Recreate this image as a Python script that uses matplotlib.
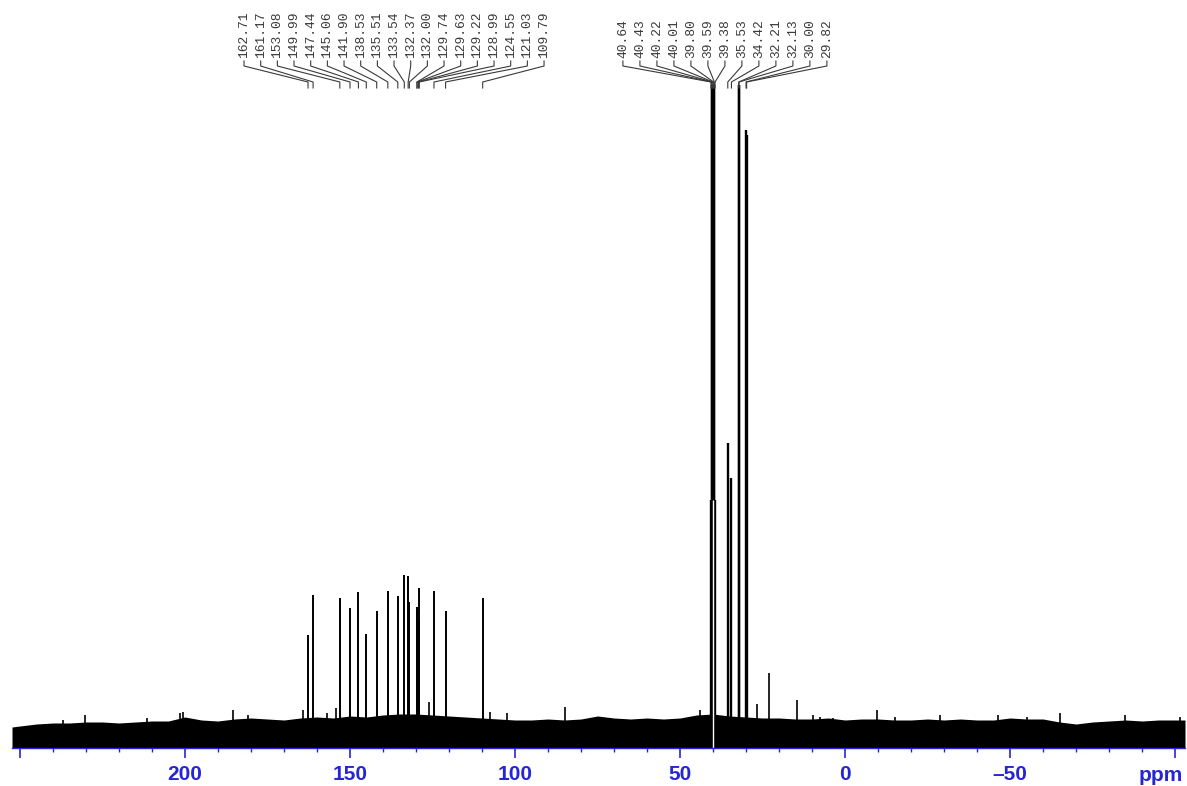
import numpy as np
import matplotlib
matplotlib.use("Agg")
import matplotlib.pyplot as plt
from matplotlib.transforms import blended_transform_factory
from matplotlib.ticker import MultipleLocator, FuncFormatter

# ---------------- data ----------------
arom_shifts = [162.71, 161.17, 153.08, 149.99, 147.44, 145.06, 141.90, 138.53,
               135.51, 133.54, 132.37, 132.00, 129.74, 129.63, 129.22, 128.99,
               124.55, 121.03, 109.79]
arom_heights = [110, 150, 147, 137, 153, 111, 134, 154,
                149, 170, 169, 143, 138, 135, 157, 125,
                154, 134, 147]

aliph_shifts = [40.64, 40.43, 40.22, 40.01, 39.80, 39.59, 39.38,
                35.53, 34.42, 32.21, 32.13, 30.00, 29.82]
aliph_heights = [245, 2000, 2000, 2000, 2000, 2000, 245,
                 302, 267, 2000, 1900, 615, 610]

# unlabeled small peaks / noise spikes
spike_ppm = [237.0, 230.3, 211.5, 201.5, 200.5, 185.5, 181.0, 164.3, 157.0,
             154.2, 126.1, 107.6, 102.4, 84.8, 44.0, 26.7, 23.0, 14.5, 9.7,
             7.6, 3.6, -9.7, -15.0, -28.8, -46.4, -55.0, -65.0, -84.8, -101.5]
spike_height = [25, 30, 27, 32, 33, 35, 30, 35, 32,
                37, 43, 33, 32, 38, 35, 41, 72, 45, 30,
                28, 27, 35, 28, 30, 30, 28, 32, 30, 28]

# noise-floor envelope
noise_ppm = [252.4] + list(range(250, -105, -5)) + [-103.0]
noise_level = [18, 19, 21, 22, 22, 23, 23, 22, 23, 24, 24, 28, 25, 24, 26, 27,
               26, 25, 27, 28, 27, 29, 28, 30, 31, 31, 30, 29, 28, 27, 26, 25,
               25, 26, 25, 26, 29, 27, 26, 27, 26, 27, 30, 31, 29, 28, 27, 27,
               26, 26, 27, 25, 26, 26, 25, 25, 26, 25, 26, 25, 25, 27, 26, 26,
               23, 21, 23, 24, 25, 24, 25, 25, 25]

labeled_ticks = [200, 150, 100, 50, 0, -50]
unit_label = "ppm"

# ---------------- figure ----------------
W, H = 1187, 786
BLUE = "#2626d4"
fig = plt.figure(figsize=(W / 100, H / 100), dpi=100)
ax = fig.add_axes([12 / W, 1 - 748 / H, (1185 - 12) / W, (748 - 85) / H])
ax.set_xlim(252.4, -103.0)
ax.set_ylim(-3, 660)

# noise band
ax.fill_between(noise_ppm, -3, noise_level, color="black", lw=0)
ax.vlines(spike_ppm, -3, spike_height, color="black", lw=1.2)

# peaks
ax.vlines(arom_shifts, 0, arom_heights, color="black", lw=1.4)
ax.vlines(aliph_shifts, 0, aliph_heights, color="black", lw=1.7)
# white gap under the solvent septet
ax.vlines(aliph_shifts[3], -3, aliph_heights[0], color="white", lw=1.0)

# axis styling
for s in ["left", "right", "top"]:
    ax.spines[s].set_visible(False)
ax.spines["bottom"].set_color(BLUE)
ax.spines["bottom"].set_linewidth(1.0)
ax.set_yticks([])
ax.xaxis.set_major_locator(MultipleLocator(50))
ax.xaxis.set_minor_locator(MultipleLocator(10))


def fmt(v, pos):
    v = int(round(v))
    if v in labeled_ticks:
        return str(v).replace("-", "\u2013")
    return ""


ax.xaxis.set_major_formatter(FuncFormatter(fmt))
ax.tick_params(axis="x", which="major", length=7, width=1.2, color=BLUE,
               labelcolor=BLUE, labelsize=15, pad=5)
ax.tick_params(axis="x", which="minor", length=3, width=1.0, color=BLUE)
for t in ax.get_xticklabels():
    t.set_fontweight("bold")
    t.set_family("Liberation Sans")

fig.text(1183 / W, 1 - 781 / H, unit_label, ha="right", va="baseline",
         color=BLUE, fontsize=15, fontweight="bold", family="Liberation Sans")

# peak labels with leader lines
bt = blended_transform_factory(ax.transData, fig.transFigure)
LC = "#3a3a3a"


def label_group(shifts, lab_left, lab_right):
    xs = np.linspace(lab_left, lab_right, len(shifts))
    for lx, px in zip(xs, shifts):
        ys = [1 - 61 / H, 1 - 66 / H, 1 - 82 / H, 1 - 88 / H]
        ax.plot([lx, lx, px, px], ys, transform=bt, clip_on=False,
                color=LC, lw=0.8)
        ax.text(lx, 1 - 58 / H, f"{px:.2f}", transform=bt, rotation=90,
                ha="center", va="bottom", family="Liberation Mono",
                fontsize=9.4, color=LC)


label_group(arom_shifts, 182.1, 91.2)
label_group(aliph_shifts, 67.3, 5.5)

fig.savefig("out.png", dpi=100)
